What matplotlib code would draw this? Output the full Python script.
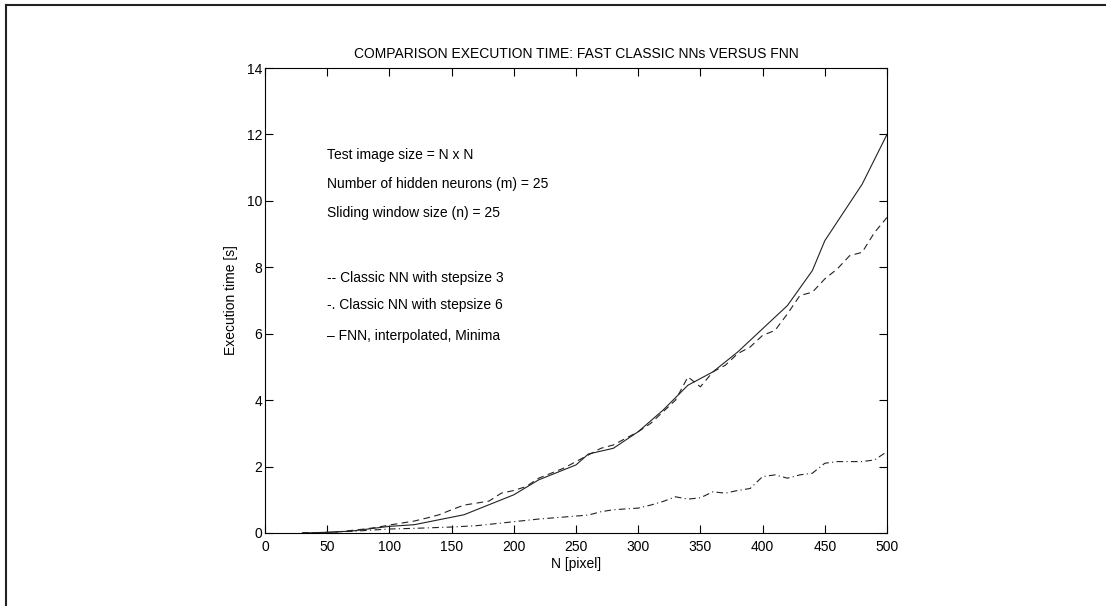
import matplotlib
matplotlib.use("Agg")
import matplotlib.pyplot as plt
from matplotlib.lines import Line2D

plt.rcParams['font.family'] = ['Liberation Sans', 'DejaVu Sans']

# FNN, interpolated, Minima (solid)
n_fnn = [30, 50, 70, 100, 120, 160, 200, 220, 250, 260, 280, 300, 320, 340, 360,
         380, 400, 420, 440, 450, 480, 500]
t_fnn = [0.0, 0.02, 0.06, 0.2, 0.25, 0.55, 1.15, 1.6, 2.05, 2.38, 2.55, 3.05, 3.7,
         4.45, 4.85, 5.45, 6.15, 6.85, 7.9, 8.8, 10.5, 12.0]

# Classic NN with stepsize 3 (dashed)
n_s3 = [30, 40, 50, 60, 70, 80, 90, 100, 110, 120, 130, 140, 150, 160, 170, 180, 190,
        200, 210, 220, 230, 240, 250, 260, 270, 280, 290, 300, 310, 320, 330, 340, 350,
        360, 370, 380, 390, 400, 410, 420, 430, 440, 450, 460, 470, 480, 490, 500]
t_s3 = [0.0, 0.01, 0.02, 0.04, 0.08, 0.12, 0.17, 0.24, 0.3, 0.36, 0.45, 0.55, 0.7, 0.84,
        0.9, 0.96, 1.2, 1.28, 1.4, 1.65, 1.8, 1.95, 2.15, 2.35, 2.55, 2.65, 2.85, 3.05,
        3.3, 3.65, 4.0, 4.7, 4.4, 4.85, 5.05, 5.4, 5.6, 5.95, 6.1, 6.6, 7.15, 7.25, 7.65,
        7.95, 8.35, 8.45, 9.05, 9.5]

# Classic NN with stepsize 6 (dash-dot)
n_s6 = [30, 50, 70, 100, 120, 150, 170, 200, 220, 240, 260, 270, 280, 300, 310, 320,
        330, 340, 350, 360, 370, 380, 390, 400, 410, 420, 430, 440, 450, 460, 470, 480,
        490, 500]
t_s6 = [0.0, 0.02, 0.05, 0.12, 0.14, 0.18, 0.22, 0.34, 0.42, 0.48, 0.54, 0.64, 0.7,
        0.75, 0.84, 0.95, 1.09, 1.02, 1.06, 1.24, 1.2, 1.28, 1.34, 1.7, 1.75, 1.65, 1.75,
        1.8, 2.1, 2.15, 2.15, 2.15, 2.2, 2.45]

annotations = ["Test image size = N x N",
               "Number of hidden neurons (m) = 25",
               "Sliding window size (n) = 25",
               "-- Classic NN with stepsize 3",
               "-. Classic NN with stepsize 6",
               "\u2013 FNN, interpolated, Minima"]
annot_y = [11.38, 10.5, 9.64, 7.68, 6.87, 5.93]

x_ticks = list(range(0, 501, 50))
y_ticks = list(range(0, 15, 2))

fig = plt.figure(figsize=(11.06, 6.06), dpi=100)
ax = fig.add_axes([265 / 1106, 1 - 533 / 606, 622 / 1106, 465 / 606])

lc = '#222222'
ax.plot(n_fnn, t_fnn, '-', color=lc, lw=0.8)
ax.plot(n_s3, t_s3, color=lc, lw=0.8, dashes=(6, 4))
ax.plot(n_s6, t_s6, color=lc, lw=0.8, dashes=(6, 3, 1, 3))

ax.set_xlim(0, 500)
ax.set_ylim(0, 14)
ax.set_xticks(x_ticks)
ax.set_yticks(y_ticks)
ax.tick_params(direction='in', length=6, width=0.8, top=True, right=True,
               labelsize=10, pad=2)
ax.tick_params(axis='x', pad=5)
for s in ax.spines.values():
    s.set_linewidth(0.8)

ax.set_title("COMPARISON EXECUTION TIME: FAST CLASSIC NNs VERSUS FNN",
             fontsize=10, pad=7)
ax.set_xlabel("N [pixel]", fontsize=10, labelpad=2)
ax.set_ylabel("Execution time [s]", fontsize=10, labelpad=6)

for txt, yv in zip(annotations, annot_y):
    ax.text(50, yv, txt, fontsize=10, va='center', ha='left')

# figure frame (top and left edges)
fig.add_artist(Line2D([6 / 1106, 1.0], [1 - 5 / 606, 1 - 5 / 606],
                      transform=fig.transFigure, color='#222222', lw=1.5))
fig.add_artist(Line2D([6 / 1106, 6 / 1106], [0.0, 1 - 5 / 606],
                      transform=fig.transFigure, color='#222222', lw=1.5))

fig.savefig("out.png", dpi=100)
